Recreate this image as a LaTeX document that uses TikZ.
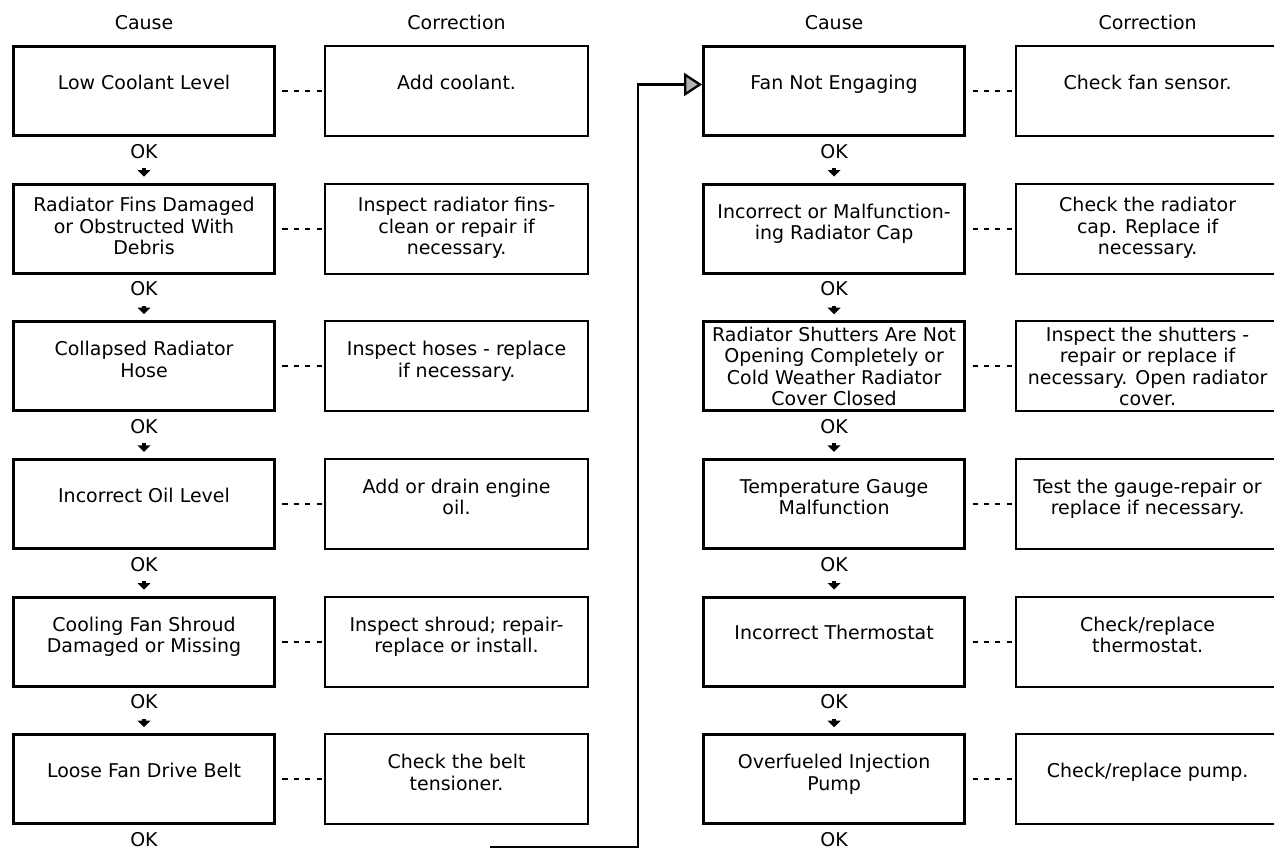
\documentclass[tikz,border=0pt]{standalone}
\usepackage{fontspec}
\setmainfont{DejaVu Sans}
\usepackage{tikz}
\usetikzlibrary{positioning, arrows.meta}

\begin{document}
\begin{tikzpicture}[node distance=0.91cm, >=Stealth,
    every node/.style={font=\fontsize{10.8pt}{12.2pt}\selectfont},
    cause/.style={draw, rectangle, line width=1.8pt, minimum width=5.22cm, minimum height=1.78cm, align=center, inner sep=1pt},
    fix/.style={draw, rectangle, line width=1.1pt, minimum width=5.26cm, minimum height=1.8cm, align=center, inner sep=1pt},
    oneline/.style={text depth=0.36cm},
    twoline/.style={text depth=0.28cm},
    threeline/.style={text depth=0.1cm},
    fourline/.style={text depth=0pt},
    oklabel/.style={inner sep=0pt},
    header/.style={inner sep=0pt},
    okarrow/.style={line width=2.4pt, shorten <=0.19cm, shorten >=0.12cm, -{Triangle[width=0.25cm, length=0.13cm]}},
    dashlink/.style={line width=1.2pt, dash pattern=on 2.9pt off 3.6pt, dash phase=2.9pt},
    loopline/.style={line width=1.3pt, -{Triangle[length=0.36cm, width=0.46cm, fill=gray!60]}}]
    \clip (0,0) rectangle (25.48,-16.98);

    \node [cause, oneline] (c1) at (2.88,-1.82) {Low Coolant Level};
    \node [cause, threeline, below=of c1] (c2) {Radiator Fins Damaged\\or Obstructed With\\Debris};
    \node [cause, twoline, below=of c2] (c3) {Collapsed Radiator\\Hose};
    \node [cause, oneline, below=of c3] (c4) {Incorrect Oil Level};
    \node [cause, twoline, below=of c4] (c5) {Cooling Fan Shroud\\Damaged or Missing};
    \node [cause, oneline, below=of c5] (c6) {Loose Fan Drive Belt};

    \node [fix, oneline, right=0.96cm of c1] (r1) {Add coolant.};
    \node [fix, threeline, right=0.96cm of c2] (r2) {Inspect radiator fins-\\clean or repair if\\necessary.};
    \node [fix, twoline, right=0.96cm of c3] (r3) {Inspect hoses - replace\\if necessary.};
    \node [fix, twoline, right=0.96cm of c4] (r4) {Add or drain engine\\oil.};
    \node [fix, twoline, right=0.96cm of c5] (r5) {Inspect shroud; repair-\\replace or install.};
    \node [fix, twoline, right=0.96cm of c6] (r6) {Check the belt\\tensioner.};

    \node [cause, oneline, right=2.26cm of r1] (c7) {Fan Not Engaging};
    \node [cause, twoline, below=of c7] (c8) {Incorrect or Malfunction-\\ing Radiator Cap};
    \node [cause, fourline, below=of c8] (c9) {Radiator Shutters Are Not\\Opening Completely or\\Cold Weather Radiator\\Cover Closed};
    \node [cause, twoline, below=of c9] (c10) {Temperature Gauge\\Malfunction};
    \node [cause, oneline, below=of c10] (c11) {Incorrect Thermostat};
    \node [cause, twoline, below=of c11] (c12) {Overfueled Injection\\Pump};

    \node [fix, oneline, right=0.98cm of c7] (r7) {Check fan sensor.};
    \node [fix, threeline, right=0.98cm of c8] (r8) {Check the radiator\\cap. Replace if\\necessary.};
    \node [fix, fourline, right=0.98cm of c9] (r9) {Inspect the shutters -\\repair or replace if\\necessary. Open radiator\\cover.};
    \node [fix, twoline, right=0.98cm of c10] (r10) {Test the gauge-repair or\\replace if necessary.};
    \node [fix, twoline, right=0.98cm of c11] (r11) {Check/replace\\thermostat.};
    \node [fix, oneline, right=0.98cm of c12] (r12) {Check/replace pump.};

    \node [header, above=0.3cm of c1] (h1) {Cause};
    \node [header, above=0.3cm of r1] (h2) {Correction};
    \node [header, above=0.3cm of c7] (h3) {Cause};
    \node [header, above=0.3cm of r7] (h4) {Correction};

    \foreach \i in {1,...,12} {
        \node [oklabel, below=0.13cm of c\i] (ok\i) {OK};
        \draw [dashlink] (c\i) -- (r\i);
    }
    \foreach \i/\j in {1/2, 2/3, 3/4, 4/5, 5/6, 7/8, 8/9, 9/10, 10/11, 11/12}
        \draw [okarrow] (ok\i) -- (c\j);

    \coordinate (loopstart) at (9.8,-16.94);
    \coordinate (loopturn) at (12.76,-16.94);
    \draw [loopline] (loopstart) -- (loopturn) |- ([yshift=0.13cm]c7.west);
\end{tikzpicture}
\end{document}
